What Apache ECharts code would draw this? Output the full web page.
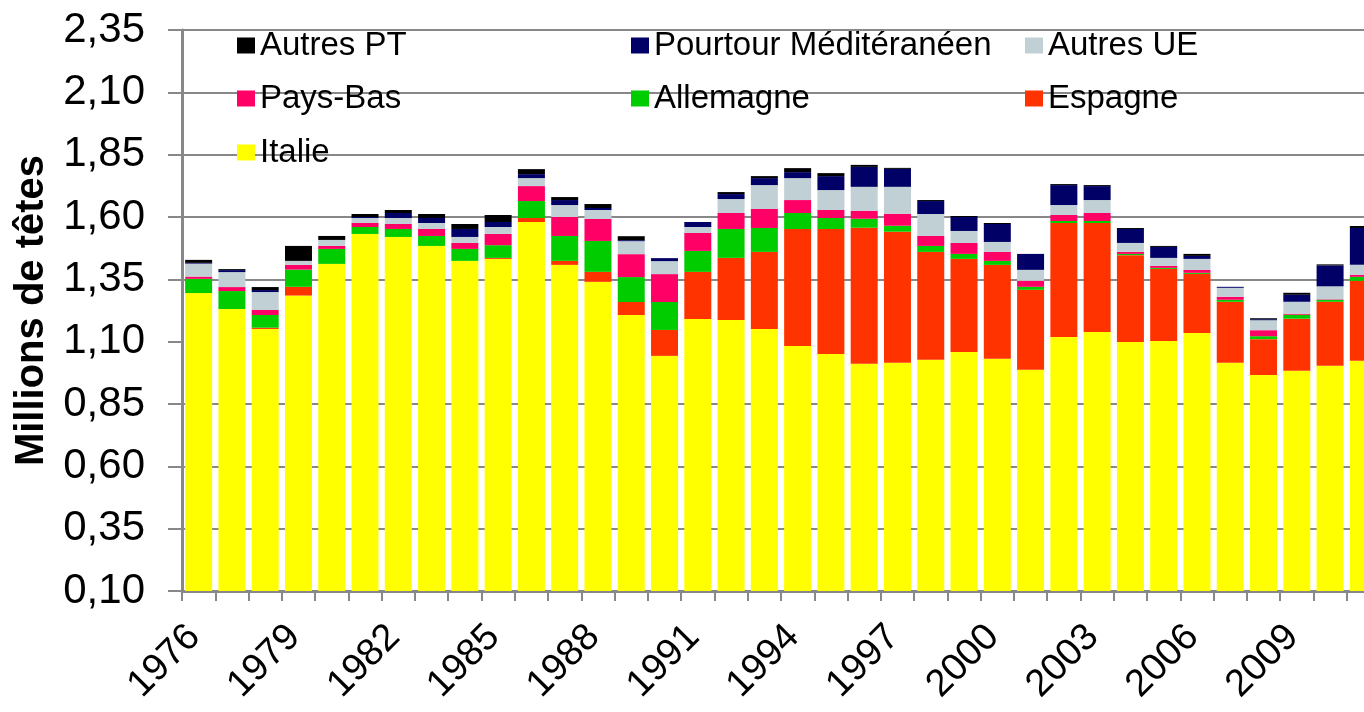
<!DOCTYPE html>
<html>
<head>
<meta charset="utf-8">
<script src="https://cdn.jsdelivr.net/npm/echarts@6/dist/echarts.min.js"></script>
<style>
html,body{margin:0;padding:0;background:#fff;overflow:hidden;}
#c{width:1380px;height:712px;}
</style>
</head>
<body>
<div id="c"></div>
<script>
var years = ['1976','1977','1978','1979','1980','1981','1982','1983','1984','1985','1986','1987','1988','1989','1990','1991','1992','1993','1994','1995','1996','1997','1998','1999','2000','2001','2002','2003','2004','2005','2006','2007','2008','2009','2010','2011'];

var italie    = [1.295,1.231,1.151,1.285,1.412,1.532,1.520,1.484,1.424,1.432,1.580,1.408,1.340,1.207,1.043,1.191,1.187,1.151,1.083,1.051,1.011,1.015,1.027,1.059,1.031,0.987,1.119,1.139,1.099,1.103,1.135,1.015,0.966,0.983,1.003,1.023];
var espagne   = [0,0,0.005,0.035,0,0,0,0,0,0.004,0.016,0.016,0.040,0.052,0.104,0.189,0.249,0.309,0.469,0.501,0.546,0.526,0.433,0.373,0.377,0.321,0.457,0.437,0.348,0.289,0.237,0.245,0.144,0.209,0.257,0.321];
var allemagne = [0.057,0.072,0.051,0.069,0.060,0.028,0.032,0.040,0.048,0.051,0.068,0.100,0.124,0.100,0.112,0.084,0.116,0.096,0.064,0.044,0.036,0.024,0.024,0.020,0.016,0.012,0.008,0.008,0.005,0.004,0.004,0.008,0.012,0.016,0.008,0.016];
var paysBas   = [0.009,0.016,0.020,0.019,0.012,0.016,0.020,0.028,0.024,0.045,0.060,0.076,0.088,0.092,0.112,0.072,0.064,0.076,0.052,0.032,0.032,0.048,0.040,0.044,0.036,0.024,0.024,0.032,0.008,0.008,0.012,0.012,0.024,0.004,0.002,0.008];
var autresUE  = [0.052,0.060,0.072,0.016,0.024,0.020,0.024,0.024,0.024,0.028,0.032,0.048,0.036,0.052,0.052,0.024,0.056,0.096,0.088,0.080,0.096,0.108,0.088,0.048,0.040,0.044,0.040,0.052,0.036,0.032,0.044,0.036,0.040,0.048,0.052,0.040];
var pourtour  = [0.003,0.008,0.008,0,0,0.004,0.020,0.020,0.032,0.020,0.016,0.020,0.008,0.004,0.012,0.020,0.020,0.028,0.024,0.056,0.080,0.072,0.052,0.056,0.072,0.064,0.080,0.056,0.056,0.044,0.012,0.004,0.004,0.028,0.084,0.148];
var autresPT  = [0.012,0.004,0.012,0.060,0.016,0.012,0.012,0.016,0.020,0.028,0.020,0.012,0.016,0.016,0,0,0.008,0.008,0.016,0.012,0.008,0.004,0.004,0.004,0.004,0,0.004,0.004,0.004,0.004,0.008,0,0.004,0.008,0.004,0.008];

var seriesNames = ['Italie','Espagne','Allemagne','Pays-Bas','Autres UE','Pourtour Méditéranéen','Autres PT'];
var seriesData = [italie, espagne, allemagne, paysBas, autresUE, pourtour, autresPT];
var colors = ['#ffff00','#ff3300','#00cc00','#ff0066','#c0d0d4','#000066','#000000'];

var yMin = 0.10, yMax = 2.35, yStep = 0.25;
// gridlines shown in the reference (the 1,10 line is absent there)
var gridValues = [0.35, 0.60, 0.85, 1.35, 1.60, 1.85, 2.10, 2.35];
var FONT = '"Liberation Sans", Arial, sans-serif';
var GRID = '#888888';

// legend layout: [name, left, top]
var legendPos = [
  ['Autres PT', 237, 29], ['Pourtour Méditéranéen', 631, 29], ['Autres UE', 1025, 29],
  ['Pays-Bas', 237, 82], ['Allemagne', 631, 82], ['Espagne', 1025, 82],
  ['Italie', 237, 136]
];

var chart = echarts.init(document.getElementById('c'), null, {renderer: 'canvas'});

var option = {
  animation: false,
  color: colors,
  textStyle: {fontFamily: FONT},
  grid: {left: 182, right: 0, top: 30, bottom: 121, containLabel: false, outerBoundsMode: 'none'},
  legend: legendPos.map(function (p) {
    return {
      data: [p[0]], left: p[1], top: p[2], padding: 0, itemGap: 0,
      itemWidth: 18, itemHeight: 16, icon: 'rect', selectedMode: false,
      textStyle: {fontSize: 33, color: '#000', fontFamily: FONT}
    };
  }),
  xAxis: {
    type: 'category',
    data: years,
    boundaryGap: true,
    axisLine: {show: true, lineStyle: {color: GRID, width: 3}, z: 10},
    axisTick: {show: true, interval: 0, length: 10, lineStyle: {color: GRID, width: 2}},
    axisLabel: {interval: 2, rotate: 45, margin: 36, padding: [0, 6, 0, 0], fontSize: 38, color: '#000', fontFamily: FONT},
    splitLine: {show: false}
  },
  yAxis: {
    type: 'value',
    min: yMin, max: yMax, interval: yStep,
    name: 'Millions de têtes',
    nameLocation: 'middle',
    nameGap: 129,
    nameTextStyle: {fontSize: 40, fontWeight: 'bold', color: '#000', fontFamily: FONT},
    axisLine: {show: true, lineStyle: {color: GRID, width: 3}},
    axisTick: {show: true, length: 14, lineStyle: {color: GRID, width: 2}},
    axisLabel: {margin: 37, fontSize: 42, color: '#000', fontFamily: FONT,
      formatter: function (v) { return v.toFixed(2).replace('.', ','); }},
    splitLine: {show: false}
  },
  series: seriesNames.map(function (n, k) {
    var s = {
      name: n, type: 'bar', stack: 'total', barWidth: 27,
      data: seriesData[k],
      itemStyle: {color: colors[k]}
    };
    if (k === 0) {
      s.markLine = {
        silent: true, symbol: 'none', z: 1,
        label: {show: false},
        lineStyle: {color: GRID, width: 2, type: 'solid'},
        data: gridValues.map(function (v) { return {yAxis: v}; })
      };
    }
    return s;
  })
};
chart.setOption(option);
</script>
</body>
</html>
